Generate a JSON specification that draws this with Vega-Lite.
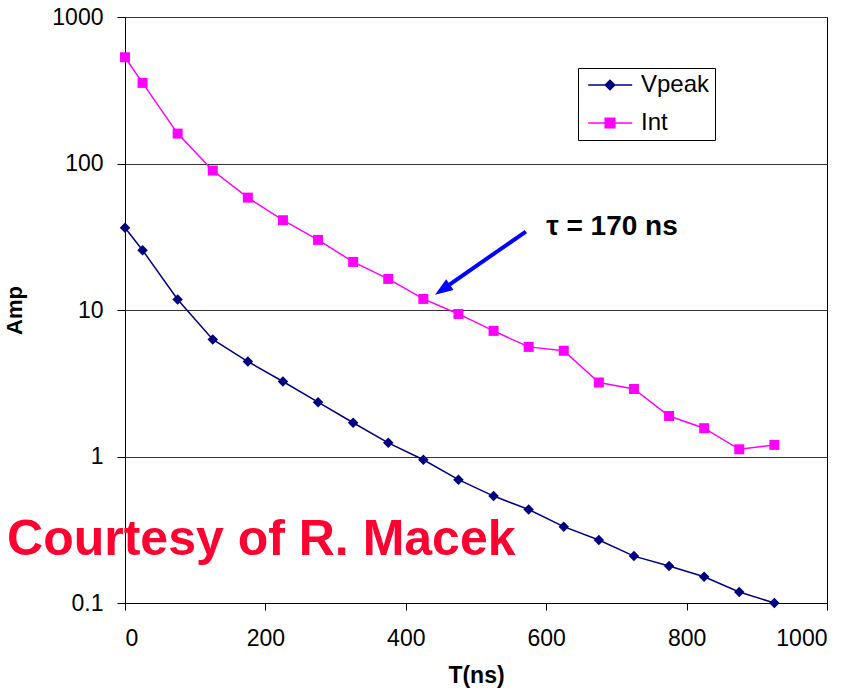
{
  "$schema": "https://vega.github.io/schema/vega-lite/v6.json",
  "autosize": "none",
  "width": 702,
  "height": 586,
  "padding": {"left": 125, "top": 17, "right": 30, "bottom": 92},
  "background": "white",
  "config": {
    "view": {"stroke": "black", "strokeWidth": 1},
    "font": "Liberation Sans"
  },
  "datasets": {
    "amp": [
      {"T": 0, "series": "Vpeak", "Amp": 36.4},
      {"T": 25, "series": "Vpeak", "Amp": 25.6},
      {"T": 75, "series": "Vpeak", "Amp": 11.8},
      {"T": 125, "series": "Vpeak", "Amp": 6.3},
      {"T": 175, "series": "Vpeak", "Amp": 4.45},
      {"T": 225, "series": "Vpeak", "Amp": 3.25},
      {"T": 275, "series": "Vpeak", "Amp": 2.35},
      {"T": 325, "series": "Vpeak", "Amp": 1.7},
      {"T": 375, "series": "Vpeak", "Amp": 1.24},
      {"T": 425, "series": "Vpeak", "Amp": 0.95},
      {"T": 475, "series": "Vpeak", "Amp": 0.695},
      {"T": 525, "series": "Vpeak", "Amp": 0.537},
      {"T": 575, "series": "Vpeak", "Amp": 0.435},
      {"T": 625, "series": "Vpeak", "Amp": 0.332},
      {"T": 675, "series": "Vpeak", "Amp": 0.269},
      {"T": 725, "series": "Vpeak", "Amp": 0.209},
      {"T": 775, "series": "Vpeak", "Amp": 0.179},
      {"T": 825, "series": "Vpeak", "Amp": 0.151},
      {"T": 875, "series": "Vpeak", "Amp": 0.119},
      {"T": 925, "series": "Vpeak", "Amp": 0.1},
      {"T": 0, "series": "Int", "Amp": 531},
      {"T": 25, "series": "Int", "Amp": 355},
      {"T": 75, "series": "Int", "Amp": 160},
      {"T": 125, "series": "Int", "Amp": 89.5},
      {"T": 175, "series": "Int", "Amp": 58.5},
      {"T": 225, "series": "Int", "Amp": 41},
      {"T": 275, "series": "Int", "Amp": 30.1},
      {"T": 325, "series": "Int", "Amp": 21.3},
      {"T": 375, "series": "Int", "Amp": 16.3},
      {"T": 425, "series": "Int", "Amp": 11.9},
      {"T": 475, "series": "Int", "Amp": 9.4},
      {"T": 525, "series": "Int", "Amp": 7.2},
      {"T": 575, "series": "Int", "Amp": 5.6},
      {"T": 625, "series": "Int", "Amp": 5.27},
      {"T": 675, "series": "Int", "Amp": 3.2},
      {"T": 725, "series": "Int", "Amp": 2.89},
      {"T": 775, "series": "Int", "Amp": 1.89},
      {"T": 825, "series": "Int", "Amp": 1.56},
      {"T": 875, "series": "Int", "Amp": 1.12},
      {"T": 925, "series": "Int", "Amp": 1.2}
    ],
    "arrow": [
      {"T": 571, "Amp": 34.3, "T2": 453, "Amp2": 13.9, "tipT": 441.6, "tipAmp": 12.7}
    ],
    "notes": [
      {"T": 600, "Amp": 37, "label": "τ = 170 ns"}
    ],
    "credit": [
      {"T": -168, "Amp": 0.214, "label": "Courtesy of R. Macek"}
    ]
  },
  "encoding": {
    "x": {
      "type": "quantitative",
      "scale": {"domain": [0, 1000], "nice": false, "zero": false},
      "axis": {
        "title": "T(ns)",
        "values": [0, 200, 400, 600, 800, 1000],
        "format": "d",
        "grid": false,
        "domainColor": "black",
        "tickColor": "black",
        "tickSize": 7,
        "labelFont": "Liberation Sans",
        "labelFontSize": 23,
        "labelColor": "black",
        "labelPadding": 17,
        "titleFont": "Liberation Sans",
        "titleFontSize": 23,
        "titleFontWeight": "bold",
        "titleColor": "black",
        "titlePadding": 14
      }
    },
    "y": {
      "type": "quantitative",
      "scale": {"type": "log", "domain": [0.1, 1000], "nice": false},
      "axis": {
        "title": "Amp",
        "values": [0.1, 1, 10, 100, 1000],
        "format": "~g",
        "grid": true,
        "gridColor": "#333333",
        "gridWidth": 1,
        "domainColor": "black",
        "tickColor": "black",
        "tickSize": 8,
        "labelFont": "Liberation Sans",
        "labelFontSize": 23,
        "labelColor": "black",
        "labelPadding": 14,
        "titleFont": "Liberation Sans",
        "titleFontSize": 22,
        "titleFontWeight": "bold",
        "titleColor": "black",
        "titlePadding": 25
      }
    }
  },
  "layer": [
    {
      "data": {"name": "amp"},
      "mark": {"type": "line", "strokeWidth": 1.5},
      "encoding": {
        "x": {"field": "T"},
        "y": {"field": "Amp"},
        "color": {
          "field": "series",
          "type": "nominal",
          "scale": {"domain": ["Vpeak", "Int"], "range": ["#000080", "#FF00FF"]},
          "legend": {
            "title": null,
            "orient": "none",
            "legendX": 453,
            "legendY": 51,
            "padding": 5,
            "strokeColor": "black",
            "fillColor": "white",
            "cornerRadius": 0,
            "symbolSize": 400,
            "symbolStrokeWidth": 1.5,
            "rowPadding": 14,
            "labelFont": "Liberation Sans",
            "labelFontSize": 24,
            "labelColor": "black",
            "labelOffset": 34,
            "encode": {
              "symbols": {
                "update": {
                  "shape": {"signal": "datum.value === 'Vpeak' ? 'M-0.68,0L3.72,0M1.02,0L1.5,-0.48L1.98,0L1.5,0.48Z' : 'M-0.68,0L3.72,0M1.02,-0.48L1.98,-0.48L1.98,0.48L1.02,0.48Z'"},
                  "fill": {"signal": "datum.value === 'Vpeak' ? '#000080' : '#FF00FF'"},
                  "stroke": {"signal": "datum.value === 'Vpeak' ? '#000080' : '#FF00FF'"},
                  "fillOpacity": {"value": 1},
                  "opacity": {"value": 1}
                }
              }
            }
          }
        }
      }
    },
    {
      "data": {"name": "amp"},
      "transform": [{"filter": "datum.series === 'Vpeak'"}],
      "mark": {"type": "point", "shape": "diamond", "filled": true, "opacity": 1, "size": 110, "color": "#000080"},
      "encoding": {
        "x": {"field": "T"},
        "y": {"field": "Amp"}
      }
    },
    {
      "data": {"name": "amp"},
      "transform": [{"filter": "datum.series === 'Int'"}],
      "mark": {"type": "point", "shape": "square", "filled": true, "opacity": 1, "size": 100, "color": "#FF00FF"},
      "encoding": {
        "x": {"field": "T"},
        "y": {"field": "Amp"}
      }
    },
    {
      "data": {"name": "arrow"},
      "mark": {"type": "rule", "color": "#0000FF", "strokeWidth": 4},
      "encoding": {
        "x": {"field": "T"},
        "y": {"field": "Amp"},
        "x2": {"field": "T2"},
        "y2": {"field": "Amp2"}
      }
    },
    {
      "data": {"name": "arrow"},
      "mark": {
        "type": "point",
        "shape": "M0,0L-0.65,1.8L0.65,1.8Z",
        "size": 400,
        "angle": 235.6,
        "filled": true,
        "color": "#0000FF",
        "opacity": 1
      },
      "encoding": {
        "x": {"field": "tipT"},
        "y": {"field": "tipAmp"}
      }
    },
    {
      "data": {"name": "notes"},
      "mark": {
        "type": "text",
        "align": "left",
        "baseline": "middle",
        "font": "Liberation Sans",
        "fontSize": 28,
        "fontWeight": "bold",
        "color": "black"
      },
      "encoding": {
        "x": {"field": "T"},
        "y": {"field": "Amp"},
        "text": {"field": "label"}
      }
    },
    {
      "data": {"name": "credit"},
      "mark": {
        "type": "text",
        "align": "left",
        "baseline": "alphabetic",
        "font": "Liberation Sans",
        "fontSize": 50,
        "fontWeight": "bold",
        "color": "#FF0030",
        "clip": false
      },
      "encoding": {
        "x": {"field": "T"},
        "y": {"field": "Amp"},
        "text": {"field": "label"}
      }
    }
  ]
}
